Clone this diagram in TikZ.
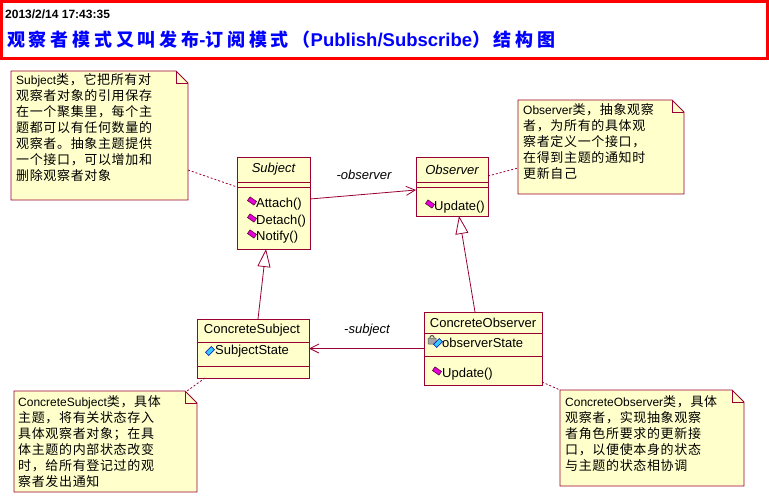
\documentclass[tikz,border=0pt]{standalone}
\usepackage{fontspec}
\setmainfont{Liberation Sans}
\newfontfamily\cjk[LetterSpace=5]{Noto Sans CJK SC}
\newfontfamily\cjkT[LetterSpace=21]{Noto Sans CJK SC}
\usetikzlibrary{arrows.meta,shapes.geometric}
\definecolor{umlred}{RGB}{153,0,51}
\definecolor{noteyel}{RGB}{255,255,204}
\definecolor{titleblue}{RGB}{0,0,255}
\definecolor{opmag}{RGB}{230,0,220}
\definecolor{attcyan}{RGB}{51,204,255}
\newcommand\lat[1]{{\rmfamily\fontsize{12}{16}\selectfont #1}}
\newcommand\drawnote[1]{%
  \fill[noteyel] (#1.north west) -- ([xshift=-12pt]#1.north east) -- ([yshift=-12pt]#1.north east) -- (#1.south east) -- (#1.south west) -- cycle;
  \draw[umlline] (#1.north west) -- ([xshift=-12pt]#1.north east) -- ([yshift=-12pt]#1.north east) -- (#1.south east) -- (#1.south west) -- cycle;
  \draw[umlline] ([xshift=-12pt]#1.north east) -- ([xshift=-12pt,yshift=-12pt]#1.north east) -- ([yshift=-12pt]#1.north east);
}
\tikzset{
  umlline/.style={draw=umlred, line width=0.8pt},
  cls/.style={draw=umlred, fill=noteyel, line width=0.8pt, inner sep=0pt, outer sep=0pt},
  notebox/.style={inner sep=0pt, outer sep=0pt},
  notetext/.style={anchor=north west, align=left, inner sep=0pt, font=\cjk\fontsize{13}{16}\selectfont},
  ctext/.style={anchor=west, inner sep=0pt, font=\fontsize{13}{15}\selectfont},
  cname/.style={inner sep=0pt, font=\fontsize{13}{15}\selectfont},
  opico/.style={rectangle, minimum width=8pt, minimum height=4.5pt, inner sep=0pt, rotate=-35, fill=opmag, draw=black!60!purple, line width=0.5pt},
  attico/.style={rectangle, minimum width=8pt, minimum height=4.5pt, inner sep=0pt, rotate=45, fill=attcyan, draw=blue!70!black, line width=0.5pt},
  assoc/.style={umlline, -{Straight Barb[length=9pt,width=9pt]}},
  gen/.style={umlline, -{Triangle[open, length=18pt, width=13pt, fill=white]}},
  noteline/.style={draw=umlred, line width=0.8pt, dash pattern=on 2pt off 2pt},
  lbl/.style={inner sep=0pt, font=\itshape\fontsize{13}{15}\selectfont}
}
\begin{document}
\begin{tikzpicture}[x=1pt, y=-1pt]
\useasboundingbox (0,0) rectangle (769,503);
\fill[white] (0,0) rectangle (769,503);
% title box
\draw[red, line width=3pt] (1.5,1.5) rectangle (767.5,58.5);
\node[anchor=west, inner sep=0pt, font=\bfseries\fontsize{12}{14}\selectfont] (date) at (5,14) {2013/2/14 17:43:35};
\node[anchor=west, inner sep=0pt, text=titleblue, font=\cjkT\bfseries\fontsize{18}{20}\selectfont] (title) at (7,40)
  {观察者模式又叫发布{\rmfamily\bfseries\fontsize{18.5}{20}\selectfont -}订阅模式（{\rmfamily\bfseries\fontsize{18.5}{20}\selectfont Publish/Subscribe}）结构图};

% notes
\node[notebox, minimum width=177pt, minimum height=129pt] (n1) at (99.5,135.5) {};
\drawnote{n1}
\node[notetext] (n1t) at (16,73.5) {\lat{Subject}类，它把所有对\\观察者对象的引用保存\\在一个聚集里，每个主\\题都可以有任何数量的\\观察者。抽象主题提供\\一个接口，可以增加和\\删除观察者对象};

\node[notebox, minimum width=166pt, minimum height=94pt] (n2) at (601,147) {};
\drawnote{n2}
\node[notetext] (n2t) at (523,103.5) {\lat{Observer}类，抽象观察\\者，为所有的具体观\\察者定义一个接口，\\在得到主题的通知时\\更新自己};

\node[notebox, minimum width=183pt, minimum height=101pt] (n3) at (105.5,441.5) {};
\drawnote{n3}
\node[notetext] (n3t) at (18,395.5) {\lat{ConcreteSubject}类，具体\\主题，将有关状态存入\\具体观察者对象；在具\\体主题的内部状态改变\\时，给所有登记过的观\\察者发出通知};

\node[notebox, minimum width=184pt, minimum height=96pt] (n4) at (652,438) {};
\drawnote{n4}
\node[notetext] (n4t) at (565,395.5) {\lat{ConcreteObserver}类，具体\\观察者，实现抽象观察\\者角色所要求的更新接\\口，以便使本身的状态\\与主题的状态相协调};

% classes
\node[cls, minimum width=73pt, minimum height=92pt] (subj) at (273.5,203) {};
\draw[umlline] (subj.west |- 0,182) -- (subj.east |- 0,182);
\draw[umlline] (subj.west |- 0,187) -- (subj.east |- 0,187);
\node[cname, font=\itshape\fontsize{13}{15}\selectfont] (subjn) at (273.5,169.5) {Subject};
\node[opico] (i1) at (252,201) {};
\node[ctext] (o1) at (256,204) {Attach()};
\node[opico] (i2) at (252,218) {};
\node[ctext] (o2) at (256,221) {Detach()};
\node[opico] (i3) at (252,234) {};
\node[ctext] (o3) at (256,237) {Notify()};

\node[cls, minimum width=72pt, minimum height=59pt] (obs) at (452,186.5) {};
\draw[umlline] (obs.west |- 0,182) -- (obs.east |- 0,182);
\draw[umlline] (obs.west |- 0,187) -- (obs.east |- 0,187);
\node[cname, font=\itshape\fontsize{13}{15}\selectfont] (obsn) at (452,169.5) {Observer};
\node[opico] (i4) at (430,204) {};
\node[ctext] (o4) at (434,207) {Update()};

\node[cls, minimum width=112pt, minimum height=59pt] (csub) at (253,348.5) {};
\draw[umlline] (csub.west |- 0,342) -- (csub.east |- 0,342);
\draw[umlline] (csub.west |- 0,366) -- (csub.east |- 0,366);
\node[cname] (csubn) at (252,330.5) {ConcreteSubject};
\node[attico] (i5) at (210,351) {};
\node[ctext] (a1) at (215,351) {SubjectState};

\node[cls, minimum width=118pt, minimum height=73pt] (cobs) at (483,348.5) {};
\draw[umlline] (cobs.west |- 0,333) -- (cobs.east |- 0,333);
\draw[umlline] (cobs.west |- 0,356) -- (cobs.east |- 0,356);
\node[cname] (cobsn) at (483,322.5) {ConcreteObserver};
% lock icon
\node[inner sep=0pt, minimum width=8pt, minimum height=6pt, fill=gray!70, draw=black!70, line width=0.5pt, rounded corners=0.5pt] (lock) at (432,341) {};
\draw[black!70, line width=1pt] ([xshift=-2.2pt]lock.north) arc[start angle=180, end angle=0, radius=2.2pt];
\node[attico] (i6) at (438,343) {};
\node[ctext] (a2) at (442,343) {observerState};
\node[opico] (i7) at (437,371) {};
\node[ctext] (o5) at (442,374) {Update()};

% relations
\draw[assoc] ([yshift=4pt]subj.east) -- ([yshift=-3.5pt]obs.west);
\node[lbl] (l1) at (364,175) {-observer};
\draw[assoc] (cobs.west) -- (csub.east);
\node[lbl] (l2) at (367,330) {-subject};
\draw[gen] ([xshift=-8pt]cobs.north) -- ([xshift=7pt]obs.south);
\draw[gen] ([xshift=5pt]csub.north) -- ([xshift=-7.5pt]subj.south);

% note anchors
\draw[noteline] ([yshift=-34.5pt]n1.east) -- ([yshift=16pt]subj.west);
\draw[noteline] ([yshift=10.5pt]obs.east) -- ([yshift=-21pt]n2.west);
\draw[noteline] ([xshift=-48pt]csub.south) -- ([xshift=-10pt]n3.north east);
\draw[noteline] ([yshift=-33.5pt]cobs.east) -- (n4.north west);
\end{tikzpicture}
\end{document}
